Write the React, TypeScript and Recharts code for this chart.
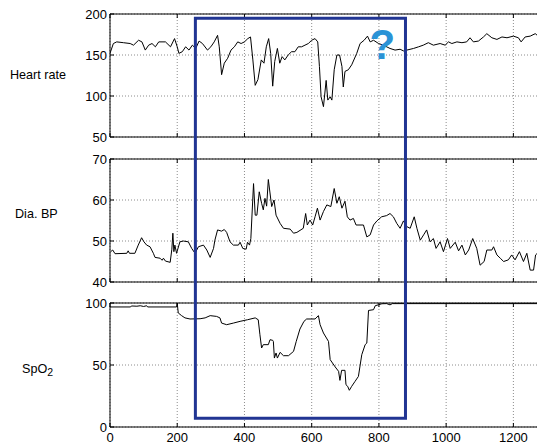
import React from 'react';
import { LineChart, Line, XAxis, YAxis, CartesianGrid, ReferenceArea, ReferenceDot } from 'recharts';

// ---------- data ----------
const hrTime = [0, 10, 20, 40, 60, 70, 85, 95, 105, 115, 125, 135, 145, 165, 180, 192, 200, 205, 215, 225, 235, 245, 255, 265, 275, 290, 300, 310, 320, 325, 332, 340, 350, 360, 370, 380, 390, 400, 410, 418, 425, 432, 440, 450, 458, 465, 472, 478, 484, 490, 498, 505, 512, 520, 530, 540, 550, 560, 570, 580, 590, 600, 610, 618, 623, 628, 635, 643, 648, 655, 660, 667, 675, 683, 690, 694, 699, 709, 719, 734, 744, 756, 766, 774, 784, 799, 813, 833, 848, 863, 873, 883, 903, 918, 932, 947, 962, 982, 997, 1007, 1017, 1032, 1047, 1061, 1071, 1081, 1096, 1111, 1121, 1136, 1151, 1166, 1181, 1200, 1215, 1223, 1235, 1250, 1265, 1271, 1290];
const hrValues = [152, 164, 166, 165, 164, 162, 168, 166, 156, 162, 164, 160, 166, 166, 160, 170, 160, 152, 154, 160, 156, 162, 158, 167, 164, 156, 160, 166, 174, 160, 126, 140, 146, 156, 160, 166, 164, 166, 170, 172, 144, 113, 120, 144, 140, 160, 170, 152, 112, 142, 158, 140, 148, 144, 150, 154, 154, 160, 160, 162, 164, 168, 170, 166, 136, 99, 87, 119, 95, 99, 95, 132, 150, 150, 136, 111, 130, 132, 138, 152, 164, 168, 173, 166, 168, 164, 162, 158, 156, 157, 155, 156, 158, 160, 162, 165, 162, 164, 162, 166, 164, 166, 165, 166, 171, 166, 167, 172, 176, 171, 169, 172, 171, 173, 171, 166, 172, 173, 176, 174, 174];

const bpTime = [2, 8, 15, 50, 54, 58, 74, 84, 94, 101, 109, 119, 129, 134, 149, 155, 159, 165, 179, 184, 187, 190, 193, 198, 208, 218, 233, 243, 253, 263, 278, 288, 298, 308, 312, 320, 332, 340, 347, 357, 367, 382, 387, 395, 405, 409, 415, 419, 427, 432, 437, 444, 451, 456, 461, 466, 471, 481, 488, 494, 506, 516, 536, 546, 556, 575, 582, 587, 595, 603, 610, 617, 625, 635, 645, 657, 667, 675, 682, 690, 699, 706, 714, 724, 732, 754, 764, 774, 784, 794, 808, 823, 833, 843, 853, 863, 873, 883, 893, 905, 913, 923, 933, 942, 952, 962, 970, 982, 992, 1004, 1012, 1027, 1037, 1047, 1057, 1067, 1079, 1091, 1101, 1113, 1121, 1136, 1141, 1151, 1161, 1171, 1185, 1195, 1205, 1218, 1230, 1240, 1250, 1260, 1266, 1271, 1290];
const bpValues = [47.4, 47.8, 46.9, 47, 47.6, 47, 47, 49, 50.8, 49.8, 49, 48.6, 47, 46, 45.8, 45.3, 45.8, 45.1, 44.8, 48, 51.9, 47.4, 49, 47, 49.8, 50, 49.8, 48.2, 47, 48.6, 49, 47.8, 46, 48.2, 50.2, 52.7, 52.4, 52.8, 52.1, 49.8, 49, 49, 49.7, 48.2, 48, 49.7, 49, 50.6, 64, 56.3, 56.3, 62, 59.2, 57.6, 60.4, 58.5, 65, 58.4, 60, 56.3, 54.3, 53.1, 52.9, 51.9, 52.1, 53.1, 56.7, 53.9, 55.1, 53.9, 55.9, 58, 55.1, 57.2, 58.8, 58.4, 62.8, 59.2, 60.8, 58, 59.7, 55.9, 55.1, 55.5, 53.9, 53.9, 51, 51.5, 53.9, 54.9, 55.9, 56.2, 56.7, 55.9, 54.3, 53.1, 54.9, 53.5, 53.1, 55.9, 53.1, 50.2, 51.5, 52.7, 49.8, 50.6, 48.2, 49.8, 47.4, 50.6, 48.2, 49.7, 47.6, 49, 46.6, 47.8, 50.6, 48.2, 44.1, 45, 47.8, 47.8, 48.6, 46.6, 45.8, 45, 45.4, 46.6, 45.4, 47.4, 45, 47, 42.9, 42.9, 46.6, 47, 47];

const spo2Time = [0, 60, 65, 80, 90, 100, 109, 112, 198, 200, 203, 213, 223, 238, 268, 283, 298, 317, 327, 332, 347, 367, 387, 409, 432, 441, 446, 451, 456, 471, 476, 484, 486, 489, 494, 498, 506, 516, 531, 546, 554, 565, 577, 585, 610, 620, 625, 635, 650, 655, 670, 680, 684, 689, 699, 702, 707, 712, 719, 729, 739, 749, 759, 764, 769, 784, 789, 799, 809, 823, 833, 840, 1290];
const spo2Values = [96.8, 96.8, 97.6, 97.4, 97.8, 97.2, 97.8, 96.8, 96.8, 100, 92, 89.8, 88, 87.1, 87.3, 88, 89.8, 89.2, 88, 83.8, 82.5, 83.8, 85.2, 86.5, 88, 86.5, 74.4, 63.7, 66.4, 66.4, 70.4, 69.9, 69, 55.6, 59.7, 55.6, 60.2, 57.5, 57.5, 61, 69, 79, 85.2, 87.1, 87.1, 89.8, 82.5, 75.8, 69, 54.3, 48.4, 44.9, 37.6, 45.7, 45.7, 34.1, 32.8, 29.6, 32.8, 36.8, 40.8, 58.3, 66.4, 67.7, 94, 94.6, 97.8, 98.6, 99.4, 99.5, 98.5, 99.5, 99.5];

const xTicks = [0, 200, 400, 600, 800, 1000, 1200];
const xDomain: [number, number] = [0, 1300];
const hrTicks = [50, 100, 150, 200];
const bpTicks = [40, 50, 60, 70];
const spo2Ticks = [0, 50, 100];

const highlightStart = 254;
const highlightEnd = 879;
const highlightBottom = 0.021; // fraction of stacked panel height
const highlightTop = 0.99;
const questionX = 810;
const questionY = 163;

const zip = (t: number[], v: number[]) => t.map((x, i) => ({ t: x, v: v[i] }));
const hrData = zip(hrTime, hrValues);
const bpData = zip(bpTime, bpValues);
const spo2Data = zip(spo2Time, spo2Values);

// ---------- styling ----------
const FONT = '"Liberation Sans", Arial, Helvetica, sans-serif';
const tickStyle = { fontSize: 13, fill: '#000', fontFamily: FONT };
const CHART_W = 560;
const MARGIN_R = 13;
const YAXIS_W = 110;

type PanelProps = {
  top: number;
  topAxisH: number;
  plotH: number;
  bottomAxisH: number;
  data: { t: number; v: number }[];
  domain: [number, number];
  yTicks: number[];
  showXLabels: boolean;
  children?: React.ReactNode;
};

function Panel({ top, topAxisH, plotH, bottomAxisH, data, domain, yTicks, showXLabels, children }: PanelProps) {
  return (
    <div style={{ position: 'absolute', left: 0, top }}>
      <LineChart
        width={CHART_W}
        height={topAxisH + plotH + bottomAxisH}
        data={data}
        margin={{ top: 0, right: MARGIN_R, bottom: 0, left: 0 }}
      >
        <CartesianGrid stroke="#8c8c8c" strokeDasharray="1 2" />
        <XAxis
          xAxisId="top"
          orientation="top"
          dataKey="t"
          type="number"
          domain={xDomain}
          ticks={xTicks}
          interval={0}
          height={topAxisH}
          tickSize={-4}
          tickFormatter={() => ''}
          stroke="#000"
          allowDataOverflow
        />
        <XAxis
          dataKey="t"
          type="number"
          domain={xDomain}
          ticks={xTicks}
          interval={0}
          height={bottomAxisH}
          tickSize={-4}
          tickMargin={10}
          tick={tickStyle}
          tickFormatter={(v: number) => (showXLabels ? String(v) : '')}
          stroke="#000"
          allowDataOverflow
        />
        <YAxis
          type="number"
          domain={domain}
          ticks={yTicks}
          interval={0}
          width={YAXIS_W}
          tickSize={-4}
          tickMargin={7}
          tick={tickStyle}
          stroke="#000"
          allowDataOverflow
        />
        <Line
          dataKey="v"
          type="linear"
          stroke="#000"
          strokeWidth={1}
          dot={false}
          isAnimationActive={false}
        />
        {children}
      </LineChart>
    </div>
  );
}

const labelStyle: React.CSSProperties = {
  position: 'absolute',
  fontFamily: FONT,
  fontSize: 12.6,
  lineHeight: '15px',
  color: '#000',
  whiteSpace: 'nowrap',
};

export default function App() {
  return (
    <div
      style={{
        position: 'absolute',
        left: 0,
        top: 0,
        width: 537,
        height: 447,
        overflow: 'hidden',
        background: '#fff',
      }}
    >
      <Panel top={0} topAxisH={14} plotH={123} bottomAxisH={8} data={hrData} domain={[50, 200]} yTicks={hrTicks} showXLabels={false}>
        <ReferenceDot
          x={questionX}
          y={questionY}
          r={0}
          stroke="none"
          fill="none"
          ifOverflow="visible"
          label={{ value: '?', position: 'center', fill: '#2b93d6', fontSize: 42, fontWeight: 700, fontFamily: FONT }}
        />
      </Panel>
      <Panel top={145} topAxisH={14} plotH={123} bottomAxisH={8} data={bpData} domain={[40, 70]} yTicks={bpTicks} showXLabels={false} />
      <Panel top={290} topAxisH={13} plotH={124} bottomAxisH={20} data={spo2Data} domain={[0, 100]} yTicks={spo2Ticks} showXLabels={true} />

      <div style={{ ...labelStyle, left: 10, top: 68 }}>Heart rate</div>
      <div style={{ ...labelStyle, left: 15, top: 207 }}>Dia. BP</div>
      <div style={{ ...labelStyle, left: 22, top: 362 }}>
        SpO<span style={{ fontSize: 10.5, position: 'relative', top: 3 }}>2</span>
      </div>

      <div style={{ position: 'absolute', left: 0, top: 0, pointerEvents: 'none' }}>
        <LineChart
          width={CHART_W}
          height={447}
          data={[{ t: 0, v: 0 }, { t: 1300, v: 1 }]}
          margin={{ top: 14, right: MARGIN_R, bottom: 20, left: YAXIS_W }}
        >
          <XAxis dataKey="t" type="number" domain={xDomain} hide height={0} />
          <YAxis type="number" domain={[0, 1]} hide width={0} />
          <Line dataKey="v" stroke="none" dot={false} isAnimationActive={false} />
          <ReferenceArea
            x1={highlightStart}
            x2={highlightEnd}
            y1={highlightBottom}
            y2={highlightTop}
            fill="none"
            fillOpacity={0}
            stroke="#213593"
            strokeWidth={3}
            ifOverflow="visible"
          />
        </LineChart>
      </div>
    </div>
  );
}
